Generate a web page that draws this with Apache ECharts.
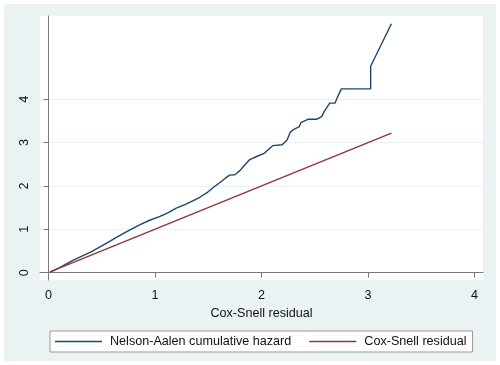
<!DOCTYPE html>
<html>
<head>
<meta charset="utf-8">
<script src="https://cdn.jsdelivr.net/npm/echarts@6/dist/echarts.min.js"></script>
<style>
  html, body { margin: 0; padding: 0; background: #fff; }
  #chart { width: 500px; height: 365px; }
</style>
</head>
<body>
<div id="chart"></div>
<script>
// Nelson-Aalen cumulative hazard
var naX = [0.02, 0.10, 0.233, 0.40, 0.546, 0.65, 0.765, 0.86, 0.95, 1.047, 1.12, 1.20, 1.28, 1.36, 1.42, 1.485,
    1.55, 1.61, 1.66, 1.70, 1.75, 1.80, 1.83, 1.86, 1.89, 1.955, 2.03, 2.06, 2.105, 2.195, 2.24, 2.27, 2.30,
    2.355, 2.37, 2.44, 2.52, 2.565, 2.59, 2.64, 2.69, 2.71, 2.75, 3.025, 3.025, 3.22];
var naY = [0.02, 0.11, 0.29, 0.48, 0.68, 0.83, 0.99, 1.11, 1.21, 1.30, 1.38, 1.49, 1.57, 1.66, 1.74, 1.84,
    1.97, 2.08, 2.18, 2.25, 2.26, 2.36, 2.45, 2.53, 2.61, 2.68, 2.76, 2.83, 2.93, 2.95, 3.06, 3.24, 3.30,
    3.37, 3.46, 3.54, 3.54, 3.60, 3.72, 3.91, 3.91, 4.03, 4.24, 4.24, 4.76, 5.74];
// Cox-Snell residual reference line (45 degree)
var csX = [0.014, 3.22];
var csY = [0.02, 3.22];

var xTicks = [0, 1, 2, 3, 4];
var yTicks = [0, 1, 2, 3, 4];
var cNames = ['Nelson-Aalen cumulative hazard', 'Cox-Snell residual'];

function toPairs(ax, ay) {
    var a = [];
    for (var i = 0; i < ax.length; i++) a.push([ax[i], ay[i]]);
    return a;
}

var oChart = echarts.init(document.getElementById('chart'), null, { renderer: 'canvas' });

var cFont = '"Liberation Sans", Arial, sans-serif';
var cAxis = '#7a7a7a';
var cLight = '#eaf2f3';
var dFont = 12.6;

var oOption = {
    animation: false,
    backgroundColor: '#fff',
    textStyle: { fontFamily: cFont },
    graphic: [{
        type: 'rect',
        z: -100,
        silent: true,
        shape: { x: 4, y: 4, width: 492, height: 357 },
        style: { fill: cLight }
    }],
    grid: {
        left: 40, right: 17, top: 16, bottom: 85,
        show: true,
        backgroundColor: '#fff',
        borderWidth: 0
    },
    legend: {
        left: 50,
        top: 331,
        padding: [4, 6, 4, 5],
        itemGap: 18,
        itemWidth: 47,
        itemHeight: 1.5,
        backgroundColor: '#fff',
        borderColor: '#9a9a9a',
        borderWidth: 1,
        borderRadius: 0,
        textStyle: { fontFamily: cFont, fontSize: dFont, color: '#111', padding: [0, 0, 0, 3] },
        data: [
            { name: cNames[0], icon: 'rect' },
            { name: cNames[1], icon: 'rect' }
        ]
    },
    xAxis: {
        type: 'value',
        min: -0.08,
        max: 4.08,
        name: 'Cox-Snell residual',
        nameLocation: 'middle',
        nameGap: 20,
        nameTextStyle: { fontFamily: cFont, fontSize: dFont, color: '#111' },
        axisLine: { show: true, lineStyle: { color: cAxis, width: 1 } },
        axisTick: { show: true, length: 5, lineStyle: { color: cAxis }, customValues: xTicks },
        axisLabel: { fontFamily: cFont, fontSize: dFont, color: '#111', margin: 9, customValues: xTicks },
        splitLine: { show: false }
    },
    yAxis: {
        type: 'value',
        min: -0.168,
        max: 5.92,
        axisLine: { show: true, lineStyle: { color: cAxis, width: 1 } },
        axisTick: { show: true, length: 5, lineStyle: { color: cAxis }, customValues: yTicks },
        axisLabel: { fontFamily: cFont, fontSize: dFont, color: '#111', margin: 9, rotate: 90, customValues: yTicks },
        splitLine: { show: true, lineStyle: { color: cLight, width: 1 } }
    },
    series: [
        {
            name: cNames[0],
            type: 'line',
            showSymbol: false,
            symbol: 'none',
            color: '#1a476f',
            lineStyle: { color: '#1a476f', width: 1.4 },
            data: toPairs(naX, naY)
        },
        {
            name: cNames[1],
            type: 'line',
            showSymbol: false,
            symbol: 'none',
            color: '#90353b',
            lineStyle: { color: '#90353b', width: 1.4 },
            data: toPairs(csX, csY)
        }
    ]
};

oChart.setOption(oOption, true);
</script>
</body>
</html>
